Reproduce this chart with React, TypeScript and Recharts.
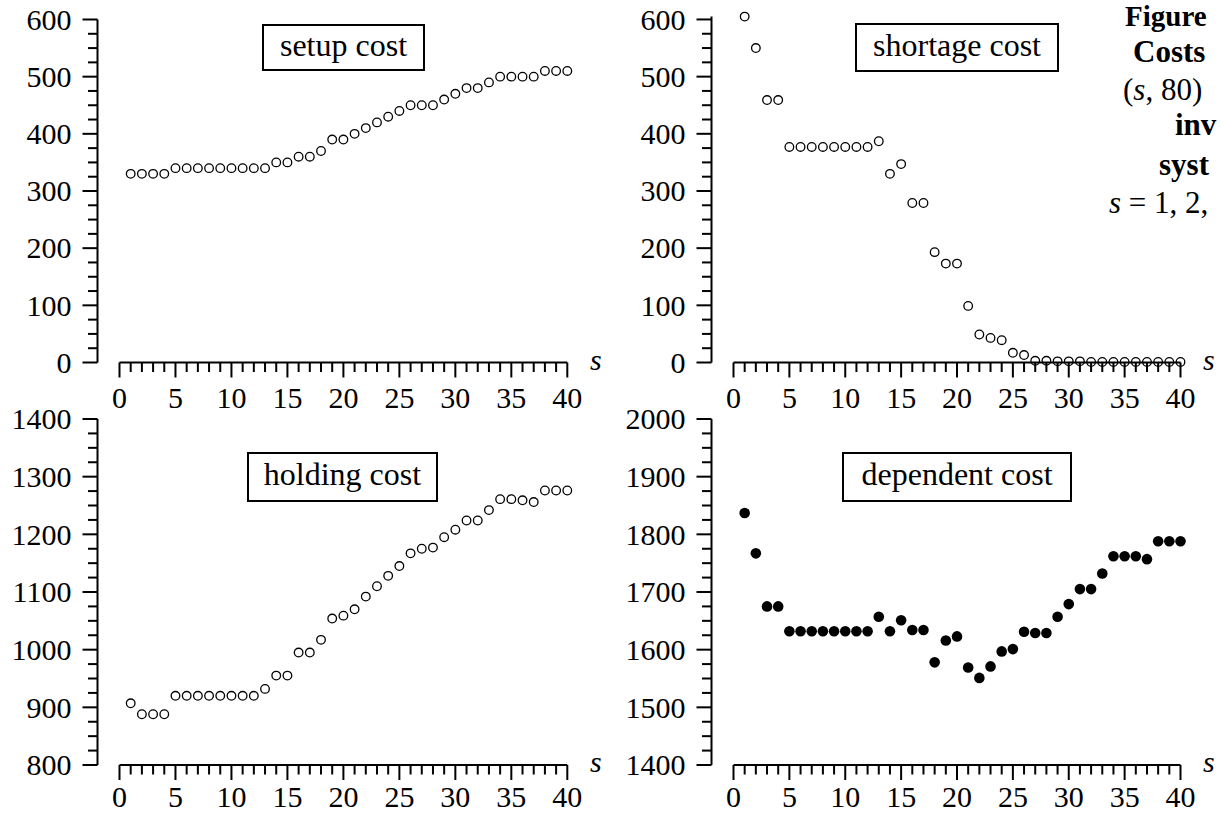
import React from "react"
import { ScatterChart, Scatter, XAxis, YAxis, ReferenceLine } from "recharts"

const FONT = "Liberation Serif, DejaVu Serif, serif"

// s = 1..40 (reorder point)
const sValues = [
  1, 2, 3, 4, 5, 6, 7, 8, 9, 10, 11, 12, 13, 14, 15, 16, 17, 18, 19, 20,
  21, 22, 23, 24, 25, 26, 27, 28, 29, 30, 31, 32, 33, 34, 35, 36, 37, 38, 39, 40,
]
const xTicks = [
  0, 1, 2, 3, 4, 5, 6, 7, 8, 9, 10, 11, 12, 13, 14, 15, 16, 17, 18, 19, 20,
  21, 22, 23, 24, 25, 26, 27, 28, 29, 30, 31, 32, 33, 34, 35, 36, 37, 38, 39, 40,
]
const xLabels = [0, 5, 10, 15, 20, 25, 30, 35, 40]

const setupCost = [
  330, 330, 330, 330, 340, 340, 340, 340, 340, 340, 340, 340, 340, 350, 350, 360, 360, 370, 390, 390,
  400, 410, 420, 430, 440, 450, 450, 450, 460, 470, 480, 480, 490, 500, 500, 500, 500, 510, 510, 510,
]
const shortageCost = [
  605, 550, 459, 459, 377, 377, 377, 377, 377, 377, 377, 377, 387, 330, 347, 279, 279, 193, 173, 173,
  99, 49, 43, 39, 17, 13, 3, 3, 2, 2, 2, 1, 1, 1, 1, 1, 1, 1, 1, 1,
]
const holdingCost = [
  907, 888, 888, 888, 920, 920, 920, 920, 920, 920, 920, 920, 932, 955, 955, 995, 995, 1017, 1054, 1059,
  1070, 1092, 1110, 1128, 1145, 1167, 1175, 1177, 1195, 1208, 1224, 1224, 1242, 1261, 1261, 1259, 1256, 1276, 1276, 1276,
]
const dependentCost = [
  1837, 1767, 1675, 1675, 1632, 1632, 1632, 1632, 1632, 1632, 1632, 1632, 1657, 1632, 1651, 1634, 1634, 1578, 1616, 1623,
  1569, 1551, 1571, 1597, 1601, 1631, 1629, 1629, 1657, 1679, 1705, 1705, 1732, 1762, 1762, 1762, 1757, 1788, 1788, 1788,
]

const costTicks = [
  0, 25, 50, 75, 100, 125, 150, 175, 200, 225, 250, 275, 300,
  325, 350, 375, 400, 425, 450, 475, 500, 525, 550, 575, 600,
]
const costLabels = [0, 100, 200, 300, 400, 500, 600]
const holdingTicks = [
  800, 825, 850, 875, 900, 925, 950, 975, 1000, 1025, 1050, 1075, 1100,
  1125, 1150, 1175, 1200, 1225, 1250, 1275, 1300, 1325, 1350, 1375, 1400,
]
const holdingLabels = [800, 900, 1000, 1100, 1200, 1300, 1400]
const dependentTicks = [
  1400, 1425, 1450, 1475, 1500, 1525, 1550, 1575, 1600, 1625, 1650, 1675, 1700,
  1725, 1750, 1775, 1800, 1825, 1850, 1875, 1900, 1925, 1950, 1975, 2000,
]
const dependentLabels = [1400, 1500, 1600, 1700, 1800, 1900, 2000]

const toRows = (vals: number[]) => sValues.map((s, i) => ({ s, v: vals[i] }))

const txt = { fontFamily: FONT, fontSize: 30, fill: "#000" }

function XTick(props: any) {
  const { x, y, payload, labelGap } = props
  const major = xLabels.includes(payload.value)
  return (
    <g>
      <line x1={x} x2={x} y1={y} y2={y + (major ? 15 : 9.5)} stroke="#000" strokeWidth={2} />
      {major && (
        <text x={x} y={y + labelGap} dy="0.34em" textAnchor="middle" style={txt}>
          {payload.value}
        </text>
      )}
    </g>
  )
}

function YTick(props: any) {
  const { x, y, payload, labels } = props
  const major = labels.includes(payload.value)
  return (
    <g>
      <line x1={x} x2={x - (major ? 15 : 9.5)} y1={y} y2={y} stroke="#000" strokeWidth={2} />
      {major && (
        <text x={x - 26} y={y} dy="0.34em" textAnchor="end" style={txt}>
          {payload.value}
        </text>
      )}
    </g>
  )
}

const OpenDot = (p: any) => <circle cx={p.cx} cy={p.cy} r={4.3} fill="none" stroke="#000" strokeWidth={1.3} />
const FilledDot = (p: any) => <circle cx={p.cx} cy={p.cy} r={5.3} fill="#000" />

type PanelProps = {
  left: number
  top: number
  height: number
  margin: { top: number; right: number; bottom: number; left: number }
  values: number[]
  domain: any[]
  base: number
  ticks: number[]
  labels: number[]
  labelGap: number
  filled?: boolean
}

function Panel({ left, top, height, margin, values, domain, base, ticks, labels, labelGap, filled }: PanelProps) {
  return (
    <div style={{ position: "absolute", left, top }}>
      <ScatterChart width={620} height={height} margin={margin}>
        <XAxis
          type="number"
          dataKey="s"
          domain={[0, 40]}
          ticks={xTicks}
          interval={0}
          padding={{ left: 22, right: 0 }}
          axisLine={false}
          tickLine={false}
          tickSize={0}
          tickMargin={0}
          height={45}
          tick={(p: any) => <XTick {...p} labelGap={labelGap} />}
        />
        <YAxis
          type="number"
          dataKey="v"
          domain={domain}
          ticks={ticks}
          interval={0}
          width={97.5}
          axisLine={{ stroke: "#000", strokeWidth: 2 }}
          tickLine={false}
          tickSize={0}
          tickMargin={0}
          tick={(p: any) => <YTick {...p} labels={labels} />}
        />
        <ReferenceLine
          segment={[{ x: 0, y: base }, { x: 40, y: base }]}
          stroke="#000"
          strokeWidth={2}
        />
        <Scatter data={toRows(values)} isAnimationActive={false} shape={filled ? FilledDot : OpenDot} />
      </ScatterChart>
    </div>
  )
}

function BoxLabel({ x, y, w, h, text }: { x: number; y: number; w: number; h: number; text: string }) {
  return (
    <g>
      <rect x={x} y={y} width={w} height={h} fill="#fff" stroke="#000" strokeWidth={2} />
      <text x={x + w / 2} y={y + h / 2 + 8} textAnchor="middle" style={{ ...txt, fontSize: 32 }}>
        {text}
      </text>
    </g>
  )
}

export default function App() {
  const topMargin = { top: 19.5, right: 52.7, bottom: 22.5, left: 0 }
  const topRightMargin = { top: 16.6, right: 53.5, bottom: 22.5, left: 0 }
  const botMargin = { top: 24, right: 52.7, bottom: 20, left: 0 }
  const botRightMargin = { top: 24, right: 53.5, bottom: 20, left: 0 }

  return (
    <div
      style={{
        position: "absolute",
        left: 0,
        top: 0,
        width: 1221,
        height: 815,
        overflow: "hidden",
        background: "#fff",
      }}
    >
      <Panel left={0} top={0} height={430} margin={topMargin} values={setupCost}
        domain={[0, 600]} base={0} ticks={costTicks} labels={costLabels} labelGap={35} />
      <Panel left={614} top={0} height={430} margin={topRightMargin} values={shortageCost}
        domain={[0, "dataMax"]} base={0} ticks={costTicks} labels={costLabels} labelGap={35} />
      <Panel left={0} top={395} height={435} margin={botMargin} values={holdingCost}
        domain={[800, 1400]} base={800} ticks={holdingTicks} labels={holdingLabels} labelGap={31.5} />
      <Panel left={614} top={395} height={435} margin={botRightMargin} values={dependentCost}
        domain={[1400, 2000]} base={1400} ticks={dependentTicks} labels={dependentLabels} labelGap={31.5} filled />

      <svg width={1221} height={815} style={{ position: "absolute", left: 0, top: 0, pointerEvents: "none" }}>
        <BoxLabel x={263} y={25} w={161} h={45} text="setup cost" />
        <BoxLabel x={856} y={24} w={202} h={47} text="shortage cost" />
        <BoxLabel x={248} y={453} w={189} h={48} text="holding cost" />
        <BoxLabel x={843} y={453} w={228} h={48} text="dependent cost" />

        <g style={{ ...txt, fontStyle: "italic" }}>
          <text x={590} y={369.5}>s</text>
          <text x={1203} y={369.5}>s</text>
          <text x={590} y={772}>s</text>
          <text x={1203} y={772}>s</text>
        </g>

        <g style={{ ...txt, fontSize: 31 }}>
          <text x={1125} y={26} fontWeight="bold" style={{ fontSize: 29 }}>Figure</text>
          <text x={1133} y={62} fontWeight="bold">Costs</text>
          <text x={1123} y={100}>
            (<tspan fontStyle="italic">s</tspan>, 80)
          </text>
          <text x={1175} y={135} fontWeight="bold">inv</text>
          <text x={1159} y={175} fontWeight="bold">syst</text>
          <text x={1109} y={213}>
            <tspan fontStyle="italic">s</tspan> = 1, 2,
          </text>
        </g>
      </svg>
    </div>
  )
}
